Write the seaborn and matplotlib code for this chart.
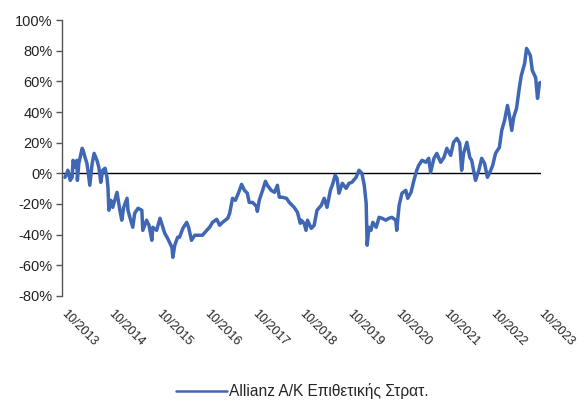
import matplotlib
matplotlib.use("Agg")
import matplotlib.pyplot as plt
import matplotlib.transforms as mtransforms
import seaborn as sns
import pandas as pd

# decimal year of each observation
years = [2013.81, 2013.85, 2013.87, 2013.92, 2013.96, 2013.98, 2014.02, 2014.06, 2014.07, 2014.10,
         2014.17, 2014.19, 2014.23, 2014.27, 2014.29, 2014.33, 2014.38, 2014.42, 2014.48, 2014.52,
         2014.56, 2014.60, 2014.65, 2014.69, 2014.71, 2014.73, 2014.77, 2014.81, 2014.90, 2014.96,
         2015.00, 2015.04, 2015.11, 2015.13, 2015.17, 2015.23, 2015.27, 2015.34, 2015.42, 2015.44,
         2015.52, 2015.57, 2015.63, 2015.65, 2015.73, 2015.80, 2015.86, 2015.90, 2015.96, 2016.05,
         2016.07, 2016.11, 2016.17, 2016.21, 2016.28, 2016.36, 2016.40, 2016.46, 2016.53, 2016.63,
         2016.69, 2016.78, 2016.84, 2016.90, 2016.99, 2017.05, 2017.11, 2017.22, 2017.26, 2017.32,
         2017.38, 2017.45, 2017.51, 2017.57, 2017.63, 2017.67, 2017.74, 2017.82, 2017.84, 2017.88,
         2017.95, 2018.01, 2018.05, 2018.13, 2018.20, 2018.26, 2018.30, 2018.36, 2018.45, 2018.51,
         2018.61, 2018.68, 2018.74, 2018.76, 2018.82, 2018.86, 2018.89, 2018.97, 2019.03, 2019.09,
         2019.18, 2019.24, 2019.30, 2019.37, 2019.41, 2019.47, 2019.51, 2019.55, 2019.62, 2019.70,
         2019.76, 2019.82, 2019.91, 2019.97, 2020.03, 2020.08, 2020.12, 2020.14, 2020.18, 2020.22,
         2020.26, 2020.33, 2020.39, 2020.45, 2020.53, 2020.60, 2020.66, 2020.74, 2020.76, 2020.81,
         2020.87, 2020.95, 2020.99, 2021.06, 2021.12, 2021.18, 2021.22, 2021.29, 2021.37, 2021.43,
         2021.47, 2021.54, 2021.60, 2021.68, 2021.75, 2021.81, 2021.89, 2021.95, 2022.02, 2022.08,
         2022.12, 2022.16, 2022.23, 2022.29, 2022.33, 2022.37, 2022.41, 2022.48, 2022.54, 2022.60,
         2022.66, 2022.73, 2022.77, 2022.83, 2022.91, 2022.96, 2023.02, 2023.08, 2023.12, 2023.17,
         2023.21, 2023.27, 2023.33, 2023.37, 2023.44, 2023.48, 2023.56, 2023.60, 2023.67, 2023.71,
         2023.75, 2023.77]

# cumulative return, %
returns = [-2.6, 0.0, 2.0, -4.6, -2.6, 8.5, 3.9, 8.5, -4.6, 6.5,
           16.3, 15.0, 10.4, 6.5, 2.0, -7.8, 6.5, 13.0, 8.5, 3.9,
           -5.9, 2.0, 3.3, -2.6, -9.1, -24.1, -17.6, -22.2, -12.4, -24.1,
           -30.6, -22.2, -16.3, -24.1, -28.7, -35.2, -26.1, -22.8, -24.1, -37.2,
           -30.6, -33.9, -43.7, -35.2, -37.2, -29.3, -35.2, -39.1, -42.4, -48.3,
           -54.8, -46.9, -41.7, -41.7, -35.9, -32.0, -35.2, -43.7, -40.4, -40.4,
           -40.4, -37.2, -35.2, -32.0, -30.0, -33.9, -32.0, -29.3, -26.1, -16.3,
           -17.6, -12.4, -7.2, -11.1, -13.0, -19.0, -19.0, -21.5, -24.8, -17.6,
           -11.1, -5.2, -7.8, -11.1, -12.4, -7.8, -15.6, -15.6, -16.3, -19.0,
           -22.2, -25.4, -32.6, -30.6, -32.6, -37.2, -30.6, -35.9, -33.9, -24.1,
           -20.9, -16.3, -22.2, -11.1, -7.8, -1.3, -3.3, -13.0, -6.5, -9.8,
           -6.5, -5.9, -2.6, 2.0, 0.0, -7.8, -19.6, -46.9, -35.2, -37.2,
           -32.0, -35.2, -28.7, -29.3, -30.6, -29.3, -28.7, -30.6, -37.2, -20.9,
           -13.0, -11.1, -16.3, -12.4, -4.6, 2.0, 5.2, 8.5, 7.2, 9.8,
           0.7, 9.8, 13.0, 7.2, 10.4, 16.3, 11.7, 20.2, 22.8, 19.6,
           2.0, 13.0, 20.2, 10.4, 8.5, 2.0, -4.6, 2.0, 9.8, 6.5,
           -2.6, 2.0, 5.2, 13.0, 16.9, 28.0, 34.6, 44.3, 37.8, 28.0,
           36.5, 42.4, 56.1, 63.9, 71.7, 81.5, 76.9, 67.1, 62.5, 48.9,
           58.7, 59.3]

series_name = "Allianz A/K Επιθετικής Στρατ."

x_tick_years = [2013.75, 2014.75, 2015.75, 2016.75, 2017.75, 2018.75,
                2019.75, 2020.75, 2021.75, 2022.75, 2023.75]
x_tick_labels = ["10/2013", "10/2014", "10/2015", "10/2016", "10/2017", "10/2018",
                 "10/2019", "10/2020", "10/2021", "10/2022", "10/2023"]
y_ticks = [100, 80, 60, 40, 20, 0, -20, -40, -60, -80]
y_tick_labels = ["100%", "80%", "60%", "40%", "20%", "0%", "-20%", "-40%", "-60%", "-80%"]

df = pd.DataFrame({"year": years, "ret": returns, "series": series_name})

sns.set_theme(style="white")
plt.rcParams["font.family"] = ["Liberation Sans", "DejaVu Sans"]

fig = plt.figure(figsize=(5.86, 4.01), dpi=100)
ax = fig.add_axes([0.106, 0.262, 0.817, 0.688])

sns.lineplot(data=df, x="year", y="ret", hue="series", palette=["#3F67B3"],
             linewidth=2.5, ax=ax, legend=True)

ax.axhline(0, color="black", linewidth=1.0, zorder=1)

ax.set_xlim(2013.75, 2023.78)
ax.set_ylim(-80, 100)
ax.set_yticks(y_ticks)
ax.set_yticklabels(y_tick_labels, fontsize=10.5, color="#222222")
ax.set_xticks(x_tick_years)
ax.set_xticklabels(x_tick_labels, fontsize=9, rotation=-45, ha="left",
                   va="top", rotation_mode="anchor", color="#222222")
ax.tick_params(axis="x", length=0, pad=8)
ax.tick_params(axis="y", length=4, width=1, color="#555555", left=True, pad=3)
ax.set_xlabel("")
ax.set_ylabel("")

shift = mtransforms.ScaledTranslation(5 / 100, -1 / 100, fig.dpi_scale_trans)
for lbl in ax.get_xticklabels():
    lbl.set_transform(lbl.get_transform() + shift)

for side in ["top", "right", "bottom"]:
    ax.spines[side].set_visible(False)
ax.spines["left"].set_color("#555555")
ax.spines["left"].set_linewidth(1)

ax.legend_.remove()
handles, labels = ax.get_legend_handles_labels()
leg = fig.legend(handles, labels, loc="center", bbox_to_anchor=(0.516, 0.025),
                 frameon=False, fontsize=11.2, handlelength=3.3, handletextpad=0.1,
                 borderpad=0)
for h in leg.get_lines():
    h.set_linewidth(1.8)

fig.savefig("out.png", dpi=100)
